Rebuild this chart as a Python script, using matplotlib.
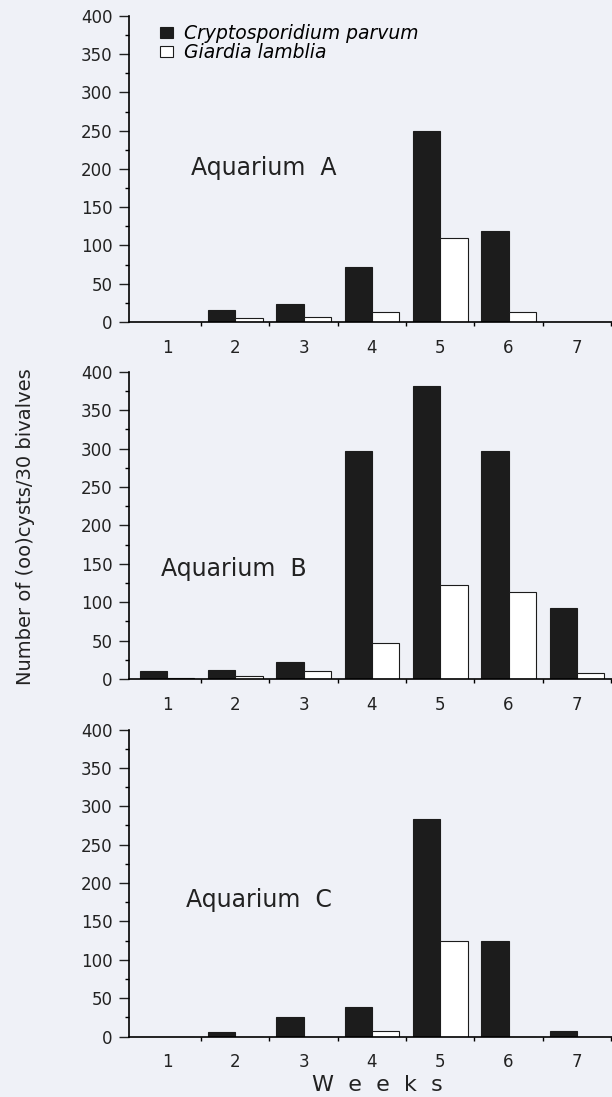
import numpy as np
import matplotlib.pyplot as plt
from matplotlib.ticker import MultipleLocator

weeks = [1, 2, 3, 4, 5, 6, 7]
tanks = ["Aquarium  A", "Aquarium  B", "Aquarium  C"]
crypto = [
    [0, 15, 23, 72, 250, 119, 0],
    [10, 12, 22, 297, 381, 297, 92],
    [0, 6, 25, 39, 283, 125, 8],
]
giardia = [
    [0, 5, 7, 13, 110, 13, 0],
    [1, 4, 10, 47, 122, 114, 8],
    [0, 0, 0, 7, 125, 0, 0],
]

bg = '#eff1f7'
dark = '#1c1c1c'
plt.rcParams['font.family'] = ['DejaVu Sans']

fig = plt.figure(figsize=(6.12, 10.97), dpi=100, facecolor=bg)

# axes boxes (left, bottom, width, height) and label spots
boxes = [(0.211, 0.7065, 0.789, 0.279),
         (0.211, 0.381, 0.789, 0.280),
         (0.211, 0.055, 0.789, 0.280)]
label_pos = [(0.278, 0.503), (0.217, 0.358), (0.269, 0.445)]

x = np.array(weeks)
for i in range(3):
    ax = fig.add_axes(boxes[i])
    ax.set_facecolor(bg)
    b1 = ax.bar(x - 0.2, crypto[i], 0.4, color=dark, edgecolor=dark, linewidth=0.8)
    b2 = ax.bar(x + 0.2, giardia[i], 0.4, color='white', edgecolor=dark, linewidth=0.8)
    ax.set_xlim(0.445, 7.515)
    ax.set_ylim(0, 400)

    ax.spines['top'].set_visible(False)
    ax.spines['right'].set_visible(False)
    ax.spines['left'].set_linewidth(1.2)
    ax.spines['bottom'].set_linewidth(1.2)

    ax.yaxis.set_major_locator(MultipleLocator(50))
    ax.yaxis.set_minor_locator(MultipleLocator(25))
    ax.tick_params(axis='y', which='major', length=7, width=1, pad=5,
                   labelsize=12, colors='#222222')
    ax.tick_params(axis='y', which='minor', length=3, width=1)

    ax.set_xticks(weeks)
    ax.set_xticks([1.5, 2.5, 3.5, 4.5, 5.5, 6.5, 7.5], minor=True)
    ax.tick_params(axis='x', which='major', length=0, pad=12,
                   labelsize=12, colors='#222222')
    ax.tick_params(axis='x', which='minor', length=3, width=1)

    ax.text(label_pos[i][0], label_pos[i][1], tanks[i], transform=ax.transAxes,
            ha='center', va='center', fontsize=17, color='#222222')

    if i == 0:
        ax.legend([b1, b2], ["Cryptosporidium parvum", "Giardia lamblia"],
                  loc='upper left', bbox_to_anchor=(0.064, 0.972),
                  frameon=False, borderpad=0, borderaxespad=0,
                  handlelength=0.7, handleheight=0.5, handletextpad=0.6,
                  labelspacing=0.0, prop={'style': 'italic', 'size': 13.5})

fig.text(0.041, 0.52, "Number of (oo)cysts/30 bivalves", rotation=90,
         ha='center', va='center', fontsize=14, color='#222222')
fig.text(0.616, 0.011, "W  e  e  k  s", ha='center', va='center',
         fontsize=16, color='#222222')

fig.savefig('out.png', dpi=100, facecolor=bg)
